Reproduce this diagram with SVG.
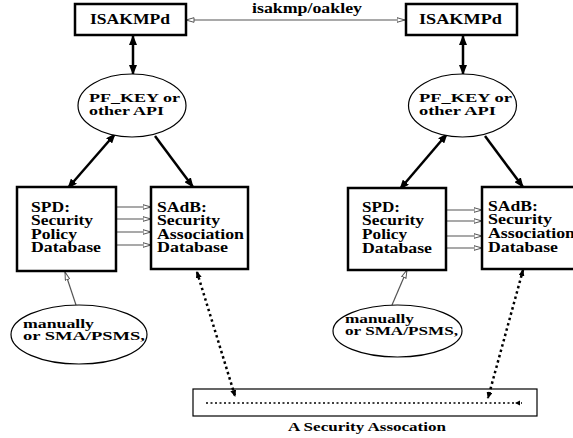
<svg xmlns="http://www.w3.org/2000/svg" width="573" height="438" viewBox="0 0 573 438">
<style>
.t{font-family:"Liberation Serif","Times New Roman",serif;font-weight:bold;font-size:14px;fill:#000}
.s{font-size:13px}
.p{font-size:12.5px}
.m{font-size:11.5px}
.box{fill:#fff;stroke:#000;stroke-width:2.5}
.ell{fill:#fff;stroke:#000;stroke-width:1.2}
.thick{stroke:#000;stroke-width:2.5;fill:none}
.thin{stroke:#555;stroke-width:1.2;fill:none}
.dot{stroke:#000;stroke-width:2.5;stroke-dasharray:2.5 3;fill:none}
.dot2{stroke:#000;stroke-width:1.5;stroke-dasharray:2 2.5;fill:none}
</style>
<defs>
<marker id="ah" viewBox="0 0 10 8" refX="9" refY="4" markerWidth="10" markerHeight="8" markerUnits="userSpaceOnUse" orient="auto-start-reverse"><path d="M0,0 L10,4 L0,8 z" fill="#000"/></marker>
<marker id="oh" viewBox="0 0 9 6" refX="8.5" refY="3" markerWidth="9" markerHeight="6" markerUnits="userSpaceOnUse" orient="auto-start-reverse"><path d="M0.5,0.7 L8.5,3 L0.5,5.3 z" fill="#fff" stroke="#555" stroke-width="1"/></marker>
<marker id="dh" viewBox="0 0 7 6" refX="6" refY="3" markerWidth="7" markerHeight="6" markerUnits="userSpaceOnUse" orient="auto-start-reverse"><path d="M0,0 L7,3 L0,6 z" fill="#000"/></marker>
</defs>
<g id="connectors">
<line class="thin" x1="186" y1="20" x2="405" y2="20" marker-start="url(#oh)" marker-end="url(#oh)"/>
<line class="thick" x1="133" y1="36" x2="133" y2="74" marker-start="url(#ah)" marker-end="url(#ah)"/>
<line class="thick" x1="463" y1="36" x2="463" y2="74" marker-start="url(#ah)" marker-end="url(#ah)"/>
<line class="thick" x1="115" y1="134" x2="68" y2="188" marker-start="url(#ah)" marker-end="url(#ah)"/>
<line class="thick" x1="155" y1="136" x2="193" y2="187" marker-end="url(#ah)"/>
<line class="thick" x1="447" y1="134" x2="400" y2="189" marker-start="url(#ah)" marker-end="url(#ah)"/>
<line class="thick" x1="485" y1="136" x2="523" y2="187" marker-end="url(#ah)"/>
<line class="thin" x1="116" y1="207" x2="151" y2="207" marker-end="url(#oh)"/>
<line class="thin" x1="113" y1="219" x2="151" y2="219" marker-end="url(#oh)"/>
<line class="thin" x1="117" y1="232" x2="151" y2="232" marker-end="url(#oh)"/>
<line class="thin" x1="116" y1="245" x2="151" y2="245" marker-end="url(#oh)"/>
<line class="thin" x1="447" y1="210" x2="482" y2="210" marker-end="url(#oh)"/>
<line class="thin" x1="445" y1="221" x2="482" y2="221" marker-end="url(#oh)"/>
<line class="thin" x1="447" y1="236" x2="482" y2="236" marker-end="url(#oh)"/>
<line class="thin" x1="447" y1="248" x2="482" y2="248" marker-end="url(#oh)"/>
<line class="thin" x1="76" y1="305" x2="65" y2="272" marker-end="url(#oh)"/>
<line class="thin" x1="392" y1="305" x2="407" y2="270" marker-end="url(#oh)"/>
<line class="dot" x1="197" y1="272" x2="235" y2="396" marker-start="url(#dh)" marker-end="url(#dh)"/>
<line class="dot" x1="523" y1="270" x2="488" y2="398" marker-start="url(#dh)" marker-end="url(#dh)"/>
</g>
<g id="isakmpd-left"><rect class="box" x="75" y="4" width="111" height="31"/><text class="t" x="90" y="23.5" textLength="80" lengthAdjust="spacingAndGlyphs">ISAKMPd</text></g>
<g id="isakmpd-right"><rect class="box" x="406" y="4" width="111" height="31"/><text class="t" x="419" y="23.5" textLength="83" lengthAdjust="spacingAndGlyphs">ISAKMPd</text></g>
<g id="label-isakmp"><text class="t" x="252" y="13" textLength="110" lengthAdjust="spacingAndGlyphs">isakmp/oakley</text></g>
<g id="pfkey-left"><ellipse class="ell" cx="132" cy="105.5" rx="54" ry="31.5"/><text class="t p" x="89" y="102" textLength="91" lengthAdjust="spacingAndGlyphs">PF_KEY or</text><text class="t p" x="89" y="115" textLength="75" lengthAdjust="spacingAndGlyphs">other API</text></g>
<g id="pfkey-right"><ellipse class="ell" cx="462.5" cy="105.5" rx="54" ry="31.5"/><text class="t p" x="419" y="102" textLength="93" lengthAdjust="spacingAndGlyphs">PF_KEY or</text><text class="t p" x="419" y="115" textLength="77" lengthAdjust="spacingAndGlyphs">other API</text></g>
<g id="spd-left"><rect class="box" x="17" y="187" width="99" height="84"/>
<text class="t" x="31" y="211.5" textLength="39" lengthAdjust="spacingAndGlyphs">SPD:</text>
<text class="t" x="31" y="225" textLength="62" lengthAdjust="spacingAndGlyphs">Security</text>
<text class="t" x="31" y="238.5" textLength="46" lengthAdjust="spacingAndGlyphs">Policy</text>
<text class="t" x="31" y="252" textLength="70" lengthAdjust="spacingAndGlyphs">Database</text></g>
<g id="sadb-left"><rect class="box" x="151" y="187" width="97" height="82"/>
<text class="t" x="157" y="211.5" textLength="50" lengthAdjust="spacingAndGlyphs">SAdB:</text>
<text class="t" x="157" y="225" textLength="63" lengthAdjust="spacingAndGlyphs">Security</text>
<text class="t" x="157" y="238.5" textLength="87" lengthAdjust="spacingAndGlyphs">Association</text>
<text class="t" x="157" y="252" textLength="71" lengthAdjust="spacingAndGlyphs">Database</text></g>
<g id="spd-right"><rect class="box" x="348" y="188" width="98" height="82"/>
<text class="t" x="362" y="211.5" textLength="38" lengthAdjust="spacingAndGlyphs">SPD:</text>
<text class="t" x="362" y="225" textLength="62" lengthAdjust="spacingAndGlyphs">Security</text>
<text class="t" x="362" y="238.5" textLength="45" lengthAdjust="spacingAndGlyphs">Policy</text>
<text class="t" x="362" y="252.5" textLength="70" lengthAdjust="spacingAndGlyphs">Database</text></g>
<g id="sadb-right"><rect class="box" x="482" y="187" width="100" height="82"/>
<text class="t" x="488" y="210.5" textLength="50" lengthAdjust="spacingAndGlyphs">SAdB:</text>
<text class="t" x="488" y="224" textLength="64" lengthAdjust="spacingAndGlyphs">Security</text>
<text class="t" x="488" y="237.5" textLength="87" lengthAdjust="spacingAndGlyphs">Association</text>
<text class="t" x="488" y="251.5" textLength="70" lengthAdjust="spacingAndGlyphs">Database</text></g>
<g id="manual-left"><ellipse class="ell" cx="79" cy="334.5" rx="68" ry="29.5"/>
<text class="t m" x="23" y="328" textLength="71" lengthAdjust="spacingAndGlyphs">manually</text>
<text class="t m" x="23" y="340" textLength="122" lengthAdjust="spacingAndGlyphs">or SMA/PSMS,</text></g>
<g id="manual-right"><ellipse class="ell" cx="397.5" cy="331" rx="64.5" ry="26"/>
<text class="t m" x="345" y="323" textLength="69" lengthAdjust="spacingAndGlyphs">manually</text>
<text class="t m" x="345" y="335" textLength="113" lengthAdjust="spacingAndGlyphs">or SMA/PSMS,</text></g>
<g id="sa">
<rect x="193" y="389" width="344" height="27" fill="none" stroke="#000" stroke-width="1.2"/>
<line class="dot2" x1="206" y1="403" x2="522" y2="403"/>
<path d="M515,403 L520,400.5 L520,405.5 z" fill="#000"/>
<text class="t s" x="288" y="431" textLength="158" lengthAdjust="spacingAndGlyphs">A Security Assocation</text>
</g>
</svg>
